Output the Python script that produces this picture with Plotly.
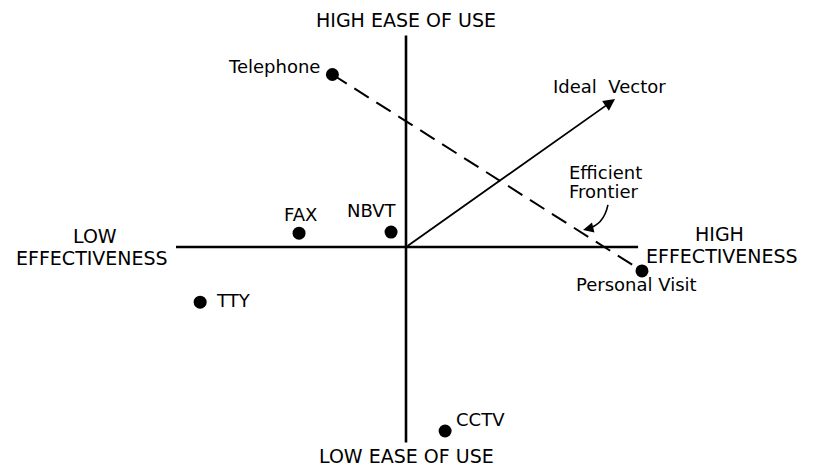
import plotly.graph_objects as go

# ---- data (position on effectiveness / ease-of-use map, axis units) ----
names = ["Telephone", "FAX", "NBVT", "TTY", "CCTV", "Personal Visit"]
effectiveness = [-3.2, -4.65, -0.65, -8.95, 1.7, 10.26]
ease_of_use = [7.5, 0.6, 0.65, -2.4, -8.0, -1.04]

# efficient frontier: Telephone -> Personal Visit
frontier_names = ["Telephone", "Personal Visit"]
# ideal vector end point
ideal_vector = (9.09, 6.43)

# axis extents
x_axis_extent = [-10.0, 10.09]
y_axis_extent = [-8.5, 9.2]

FONT = "DejaVu Sans"
BLACK = "#000000"

fig = go.Figure()

# quadrant axes
fig.add_trace(go.Scatter(x=x_axis_extent, y=[0, 0], mode="lines",
                         line=dict(color=BLACK, width=2.6), hoverinfo="skip"))
fig.add_trace(go.Scatter(x=[0, 0], y=y_axis_extent, mode="lines",
                         line=dict(color=BLACK, width=2.6), hoverinfo="skip"))

# efficient frontier (dashed)
fx = [effectiveness[names.index(n)] for n in frontier_names]
fy = [ease_of_use[names.index(n)] for n in frontier_names]
fig.add_trace(go.Scatter(x=fx, y=fy, mode="lines",
                         line=dict(color=BLACK, width=2, dash="17px,9px"),
                         hoverinfo="skip"))

# ideal vector
fig.add_annotation(x=ideal_vector[0], y=ideal_vector[1], ax=0, ay=0,
                   xref="x", yref="y", axref="x", ayref="y",
                   text="", showarrow=True, arrowhead=2, arrowsize=1.3,
                   arrowwidth=1.8, arrowcolor=BLACK, standoff=0)

# points
fig.add_trace(go.Scatter(x=effectiveness, y=ease_of_use, mode="markers",
                         marker=dict(color=BLACK, size=13), hoverinfo="skip"))

# point labels: (xanchor, xshift, yshift)
label_style = {
    "Telephone": ("right", -11, 8),
    "FAX": ("center", 1, 19),
    "NBVT": ("center", -19, 22),
    "TTY": ("left", 15, 2),
    "CCTV": ("left", 10, 12),
    "Personal Visit": ("center", -5, -14),
}
for n, x, y in zip(names, effectiveness, ease_of_use):
    xa, xs, ys = label_style[n]
    fig.add_annotation(x=x, y=y, xref="x", yref="y", text=n, showarrow=False,
                       xanchor=xa, yanchor="middle", xshift=xs, yshift=ys,
                       borderpad=0, font=dict(family=FONT, size=18, color=BLACK))

# axis / other labels: (text, x, y, xanchor)
axis_labels = [
    ("HIGH EASE OF USE", 0.0, 9.87, "center"),
    ("LOW EASE OF USE", 0.04, -9.09, "center"),
    ("LOW", -13.52, 0.48, "center"),
    ("EFFECTIVENESS", -13.65, -0.48, "center"),
    ("HIGH", 13.65, 0.56, "center"),
    ("EFFECTIVENESS", 13.74, -0.39, "center"),
]
for t, x, y, xa in axis_labels:
    fig.add_annotation(x=x, y=y, xref="x", yref="y", text=t, showarrow=False,
                       xanchor=xa, yanchor="middle", borderpad=0,
                       font=dict(family=FONT, size=19, color=BLACK))

other_labels = [
    ("Ideal  Vector", 8.83, 6.96, "center"),
    ("Efficient", 7.04, 3.26, "left"),
    ("Frontier", 7.04, 2.43, "left"),
]
for t, x, y, xa in other_labels:
    fig.add_annotation(x=x, y=y, xref="x", yref="y", text=t, showarrow=False,
                       xanchor=xa, yanchor="middle", borderpad=0,
                       font=dict(family=FONT, size=18, color=BLACK))

# curved pointer to the frontier
fig.add_shape(type="path", xref="x", yref="y",
              path="M 8.78,1.83 Q 8.6,0.95 7.85,0.78",
              line=dict(color=BLACK, width=1.6))
fig.add_annotation(x=7.7, y=0.74, ax=7.95, ay=0.80, xref="x", yref="y",
                   axref="x", ayref="y", text="", showarrow=True,
                   arrowhead=2, arrowsize=1.3, arrowwidth=1.6,
                   arrowcolor=BLACK, standoff=0)

fig.update_xaxes(range=[-406 / 23, 411 / 23], visible=False, showgrid=False,
                 zeroline=False)
fig.update_yaxes(range=[-222 / 23, 247 / 23], visible=False, showgrid=False,
                 zeroline=False)
fig.update_layout(width=817, height=469, margin=dict(l=0, r=0, t=0, b=0),
                  plot_bgcolor="white", paper_bgcolor="white",
                  showlegend=False, hovermode=False)

fig.write_html("out.html", config={"displayModeBar": False},
               post_script="document.body.style.margin='0';"
                           "document.body.style.overflow='hidden';")
